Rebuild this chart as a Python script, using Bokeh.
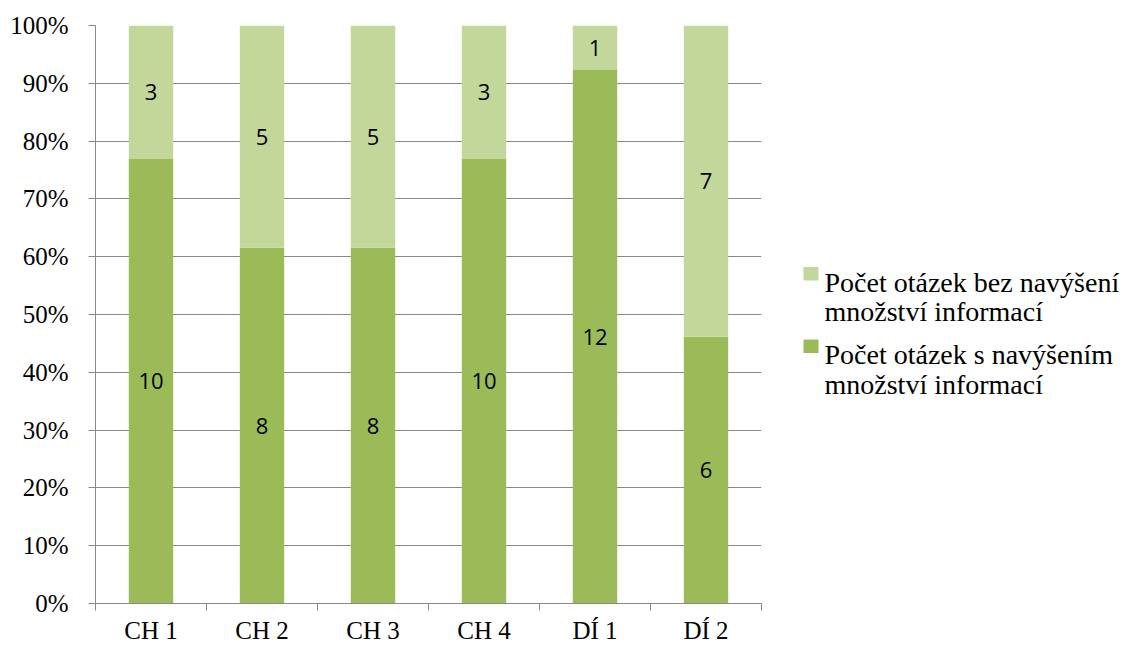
from bokeh.plotting import figure
from bokeh.models import FixedTicker, Range1d, ColumnDataSource
from bokeh.layouts import row
from bokeh.core.properties import value
from bokeh.embed import file_html
from bokeh.resources import INLINE

# Counts of questions per test
categories = ["CH 1", "CH 2", "CH 3", "CH 4", "DÍ 1", "DÍ 2"]
with_increase = [10, 8, 8, 10, 12, 6]      # s navýšením množství informací
without_increase = [3, 5, 5, 3, 1, 7]      # bez navýšení množství informací

legend_lines = [
    ["Počet otázek bez navýšení", "množství informací"],
    ["Počet otázek s navýšením", "množství informací"],
]
y_tick_values = [0, 10, 20, 30, 40, 50, 60, 70, 80, 90, 100]
y_tick_labels = ["%d%%" % v for v in y_tick_values]

DARK = "#9BBB59"
LIGHT = "#C4D79B"
GRID = "#898989"
SERIF = "'Liberation Serif', 'DejaVu Serif', serif"
SANS = "'Open Sans', sans-serif"

# 100 % stacked shares
totals = [a + b for a, b in zip(with_increase, without_increase)]
share_with = [100.0 * a / t for a, t in zip(with_increase, totals)]
share_without = [100.0 * b / t for b, t in zip(without_increase, totals)]
xs = [i + 0.5 for i in range(len(categories))]

src = ColumnDataSource(dict(
    x=xs,
    share_with=share_with,
    share_without=share_without,
    lbl_with=[str(v) for v in with_increase],
    lbl_without=[str(v) for v in without_increase],
    y_with=[s / 2 for s in share_with],
    y_without=[s + w / 2 for s, w in zip(share_with, share_without)],
))

p = figure(width=790, height=646, x_range=Range1d(0, len(categories)),
           y_range=Range1d(0, 100), output_backend="svg",
           toolbar_location=None, min_border_left=95, min_border_right=29,
           min_border_top=25, min_border_bottom=42)
p.outline_line_color = None
p.background_fill_color = "white"
p.border_fill_color = "white"

p.vbar_stack(["share_with", "share_without"], x="x", width=0.4,
             color=[DARK, LIGHT], line_color=None, source=src)

for ycol, tcol in (("y_with", "lbl_with"), ("y_without", "lbl_without")):
    p.text(x="x", y=ycol, text=tcol, source=src,
           text_align="center", text_baseline="middle",
           text_font=value(SANS), text_font_size="22px", text_color="black")

# y axis: percentages
p.yaxis.ticker = FixedTicker(ticks=y_tick_values)
p.yaxis.major_label_overrides = {v: l for v, l in zip(y_tick_values, y_tick_labels)}
p.yaxis.major_label_text_font = SERIF
p.yaxis.major_label_text_font_size = "25px"
p.yaxis.major_label_text_color = "black"
p.yaxis.major_label_standoff = 20
p.yaxis.major_tick_out = 7
p.yaxis.major_tick_in = 0
p.yaxis.minor_tick_line_color = None
p.yaxis.axis_line_color = GRID
p.yaxis.major_tick_line_color = GRID

# x axis: labels at bar centres, tick marks between categories
p.xaxis.ticker = FixedTicker(ticks=xs, minor_ticks=list(range(len(categories) + 1)))
p.xaxis.major_label_overrides = {x: c for x, c in zip(xs, categories)}
p.xaxis.major_label_text_font = SERIF
p.xaxis.major_label_text_font_size = "25px"
p.xaxis.major_label_text_line_height = 1.0
p.xaxis.major_label_text_color = "black"
p.xaxis.major_label_standoff = 6
p.xaxis.major_tick_out = 0
p.xaxis.major_tick_in = 0
p.xaxis.major_tick_line_color = None
p.xaxis.minor_tick_out = 7
p.xaxis.minor_tick_in = 0
p.xaxis.minor_tick_line_color = GRID
p.xaxis.axis_line_color = GRID

p.xgrid.visible = False
p.ygrid.ticker = FixedTicker(ticks=y_tick_values)
p.ygrid.grid_line_color = GRID
p.ygrid.grid_line_width = 1

# legend panel drawn in pixel coordinates
lf = figure(width=332, height=646, x_range=Range1d(0, 332), y_range=Range1d(646, 0),
            output_backend="svg", toolbar_location=None, min_border=0,
            x_axis_location=None, y_axis_location=None)
lf.outline_line_color = None
lf.grid.visible = False
lf.border_fill_color = "white"

lf.rect(x=[20.5, 20.5], y=[277.5, 358.5], width=15, height=15,
        color=[LIGHT, DARK], line_color=None)
text_y = [287, 320, 368, 401]
text_s = [legend_lines[0][0], legend_lines[0][1], legend_lines[1][0], legend_lines[1][1]]
lf.text(x=[34] * 4, y=text_y, text=text_s, text_align="left",
        text_baseline="alphabetic", text_font=value(SERIF),
        text_font_size="28px", text_color="black")

layout = row(p, lf)
open("out.html", "w").write(file_html(layout, INLINE))
